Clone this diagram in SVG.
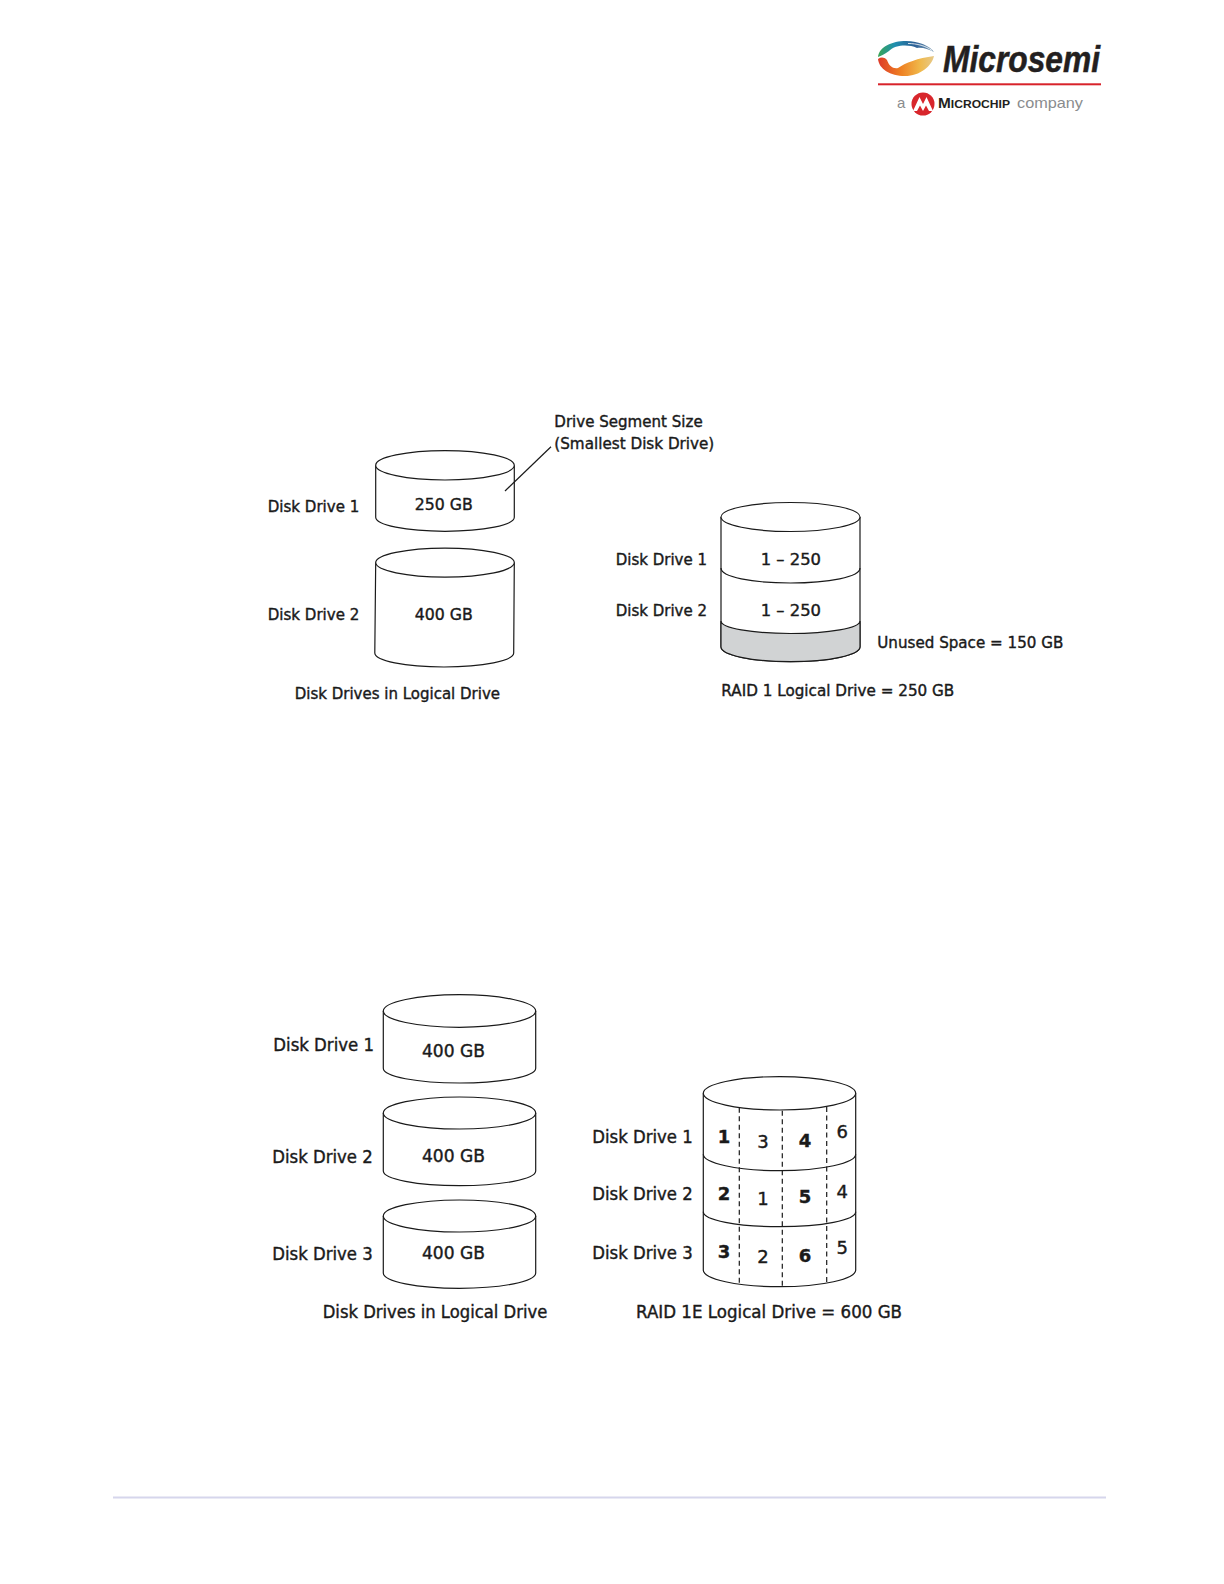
<svg xmlns="http://www.w3.org/2000/svg" width="1224" height="1584" viewBox="0 0 1224 1584">
<defs>
<linearGradient id="sw1" x1="0" y1="0" x2="1" y2="0"><stop offset="0" stop-color="#3aa655"/><stop offset="0.3" stop-color="#1f8fb0"/><stop offset="0.65" stop-color="#2c5f95"/><stop offset="1" stop-color="#7f9fb8"/></linearGradient>
<linearGradient id="sw2" x1="0" y1="0" x2="1" y2="0"><stop offset="0" stop-color="#dd3a2a"/><stop offset="0.4" stop-color="#ee7f22"/><stop offset="0.75" stop-color="#f0b84a"/><stop offset="1" stop-color="#e6c98a"/></linearGradient>
</defs>
<style>
text{font-family:"DejaVu Sans","Liberation Sans",sans-serif;font-weight:400;fill:#1a1a1a;stroke:#1a1a1a;stroke-width:.4}
.a{font-size:15.500px}
.b{font-size:17px}
.n{font-size:18px;text-anchor:middle}
.nb{font-size:18px;text-anchor:middle;font-weight:700}
.c{fill:#fff;stroke:#1a1a1a;stroke-width:1.2}
.l{fill:none;stroke:#1a1a1a;stroke-width:1.2}
.d{fill:none;stroke:#1a1a1a;stroke-width:1.2;stroke-dasharray:5 3.500}
.lg{font-family:"Liberation Sans",sans-serif;stroke:none}
</style>
<rect width="1224" height="1584" fill="#fff"/>
<g id="logo">
<path d="M878 57C879 47 892 41 906 41C919 41 930 46 934 52C928 49 922 47 917 48C908 44 895 45 889 51C885 54 881 56 878 57Z" fill="url(#sw1)"/>
<path d="M908 43.500C917 43.500 926 46 932 50.500" fill="none" stroke="#fff" stroke-width=".8"/>
<path d="M878 59C881 57 884 57 887 60C889 66 893 69 898 68C905 63 918 58 934 56C932 66 920 76 905 76C890 76 879 69 878 59Z" fill="url(#sw2)"/>
<text class="lg" x="943" y="71.500" style="font-size:36px;font-weight:700;font-style:italic;fill:#231f20;stroke:#231f20;stroke-width:.5" textLength="157" lengthAdjust="spacingAndGlyphs">Microsemi</text>
<rect x="878" y="83.300" width="223" height="2" fill="#d8222a"/>
<text class="lg" x="897" y="108" style="font-size:15px;font-weight:400;fill:#8a8c8e">a</text>
<circle cx="923" cy="104" r="11.500" fill="#d8262c"/>
<path d="M913 111L919.500 97L923 104L926.500 97L933 111L929 111L926 105.500L923 111L920 105.500L917 111Z" fill="#fff"/>
<text class="lg" x="938" y="108" style="font-size:11px;font-weight:700;fill:#231f20" textLength="72" lengthAdjust="spacingAndGlyphs"><tspan style="font-size:14px">M</tspan>ICROCHIP</text>
<text class="lg" x="1017" y="108" style="font-size:15px;font-weight:400;fill:#8a8c8e" textLength="66" lengthAdjust="spacingAndGlyphs">company</text>
</g>
<g id="disk1-250">
<path class="c" d="M375.700 465.300V517.300C375.700 525 406 531.300 445 531.300S514.300 525 514.300 517.300V465.300"/>
<ellipse class="c" cx="445" cy="465.300" rx="69.300" ry="14.700"/>
<text class="a" x="267.700" y="511.700" textLength="91.600" lengthAdjust="spacingAndGlyphs">Disk Drive 1</text>
<text class="a" x="414.700" y="510" textLength="58" lengthAdjust="spacingAndGlyphs">250 GB</text>
</g>
<g id="disk2-400">
<path class="c" d="M375.700 562.600L374.800 653C374.800 660.700 405 667 444 667S513.700 660.700 513.700 653L514.300 562.600"/>
<ellipse class="c" cx="445" cy="562.600" rx="69.300" ry="14.500"/>
<text class="a" x="267.700" y="619.700" textLength="91.600" lengthAdjust="spacingAndGlyphs">Disk Drive 2</text>
<text class="a" x="414.700" y="619.700" textLength="58" lengthAdjust="spacingAndGlyphs">400 GB</text>
</g>
<g id="labels-top">
<text class="a" x="554.300" y="427" textLength="148.400" lengthAdjust="spacingAndGlyphs">Drive Segment Size</text>
<text class="a" x="554.300" y="449" textLength="160" lengthAdjust="spacingAndGlyphs">(Smallest Disk Drive)</text>
<text class="a" x="294.700" y="699" textLength="205.300" lengthAdjust="spacingAndGlyphs">Disk Drives in Logical Drive</text>
<text class="a" x="877.300" y="647.700" textLength="186" lengthAdjust="spacingAndGlyphs">Unused Space = 150 GB</text>
<text class="a" x="721.300" y="696" textLength="233" lengthAdjust="spacingAndGlyphs">RAID 1 Logical Drive = 250 GB</text>
</g>
<g id="raid1">
<path class="c" d="M721 517V646.700C721 655 752 661.700 790.500 661.700S860 655 860 646.700V517"/>
<path d="M721 621C721 628 752 633.500 790.500 633.500S860 628 860 621V646.700C860 655 829 661.700 790.500 661.700S721 655 721 646.700Z" fill="#d1d3d4" stroke="#1a1a1a" stroke-width="1.200"/>
<ellipse class="c" cx="790.500" cy="517" rx="69.500" ry="14.500"/>
<path class="l" d="M721 568C721 577 752 583 790.500 583S860 577 860 568"/>
<text class="a" x="615.700" y="565" textLength="91.300" lengthAdjust="spacingAndGlyphs">Disk Drive 1</text>
<text class="a" x="615.700" y="615.700" textLength="91.300" lengthAdjust="spacingAndGlyphs">Disk Drive 2</text>
<text class="a" x="760.700" y="565" textLength="60.300" lengthAdjust="spacingAndGlyphs">1 – 250</text>
<text class="a" x="760.700" y="615.700" textLength="60.300" lengthAdjust="spacingAndGlyphs">1 – 250</text>
</g>
<g id="b-disk1">
<path class="c" d="M383.300 1011V1068.300C383.300 1076.500 417 1083 459.500 1083S535.700 1076.500 535.700 1068.300V1011"/>
<ellipse class="c" cx="459.500" cy="1011" rx="76.200" ry="16.300"/>
<text class="b" x="273.300" y="1050.500" textLength="100.700" lengthAdjust="spacingAndGlyphs">Disk Drive 1</text>
<text class="b" x="422" y="1057" textLength="63" lengthAdjust="spacingAndGlyphs">400 GB</text>
</g>
<g id="b-disk2">
<path class="c" d="M383.300 1113V1171C383.300 1179 417 1185.700 459.500 1185.700S535.700 1179 535.700 1171V1113"/>
<ellipse class="c" cx="459.500" cy="1113" rx="76.200" ry="16"/>
<text class="b" x="272.300" y="1162.500" textLength="100.400" lengthAdjust="spacingAndGlyphs">Disk Drive 2</text>
<text class="b" x="422" y="1162" textLength="63" lengthAdjust="spacingAndGlyphs">400 GB</text>
</g>
<g id="b-disk3">
<path class="c" d="M383.300 1216V1273C383.300 1281.500 417 1288.300 459.500 1288.300S535.700 1281.500 535.700 1273V1216"/>
<ellipse class="c" cx="459.500" cy="1216" rx="76.200" ry="16"/>
<text class="b" x="272.300" y="1259.500" textLength="100.400" lengthAdjust="spacingAndGlyphs">Disk Drive 3</text>
<text class="b" x="422" y="1259" textLength="63" lengthAdjust="spacingAndGlyphs">400 GB</text>
</g>
<g id="raid1e">
<path class="c" d="M703.300 1093.300V1270C703.300 1279 737 1286.700 779.500 1286.700S855.700 1279 855.700 1270V1093.300"/>
<ellipse class="c" cx="779.500" cy="1093.300" rx="76.200" ry="16.700"/>
<path class="l" d="M703.300 1154.300C703.300 1163 737 1170.700 779.500 1170.700S855.700 1163 855.700 1154.300"/>
<path class="l" d="M703.300 1211.700C703.300 1220 737 1226.700 779.500 1226.700S855.700 1220 855.700 1211.700"/>
<path class="d" d="M739.300 1107.700V1283.300M782.300 1110.700V1287M826.700 1107V1283"/>
<text class="b" x="592.300" y="1143.200" textLength="100.400" lengthAdjust="spacingAndGlyphs">Disk Drive 1</text>
<text class="b" x="592.300" y="1200.300" textLength="100.400" lengthAdjust="spacingAndGlyphs">Disk Drive 2</text>
<text class="b" x="592.300" y="1258.500" textLength="100.400" lengthAdjust="spacingAndGlyphs">Disk Drive 3</text>
<text class="nb" x="724" y="1142.700">1</text><text class="nb" x="724" y="1199.800">2</text><text class="nb" x="724" y="1258">3</text>
<text class="n" x="763" y="1147.800">3</text><text class="n" x="763" y="1204.800">1</text><text class="n" x="763" y="1262.700">2</text>
<text class="nb" x="805" y="1146.700">4</text><text class="nb" x="805" y="1203.300">5</text><text class="nb" x="805" y="1261.800">6</text>
<text class="n" x="842.300" y="1138">6</text><text class="n" x="842.300" y="1198">4</text><text class="n" x="842.300" y="1253.700">5</text>
</g>
<g id="labels-bottom">
<text class="b" x="322.700" y="1318" textLength="224.600" lengthAdjust="spacingAndGlyphs">Disk Drives in Logical Drive</text>
<text class="b" x="636" y="1318" textLength="266" lengthAdjust="spacingAndGlyphs">RAID 1E Logical Drive = 600 GB</text>
</g>
<g id="connectors"><path class="l" d="M505 491L551 446.700"/></g>
<rect id="footer-rule" x="113" y="1496.500" width="993" height="2" fill="#d6d6ec"/>
</svg>
